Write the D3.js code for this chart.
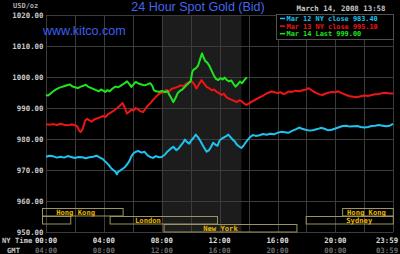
<!DOCTYPE html>
<html>
<head>
<meta charset="utf-8">
<script src="https://d3js.org/d3.v7.min.js"></script>
<style>
  body { margin: 0; background: #000; }
  svg { display: block; }
  .mono { font-family: "DejaVu Sans Mono", monospace; font-weight: bold; }
</style>
</head>
<body>
<div id="chart"></div>
<script>
// tick labels
var yTicks = [950, 960, 970, 980, 990, 1000, 1010, 1020]
var nyHours = [0, 4, 8, 12, 16, 20, 23.98]
var nyLabels = ["00:00", "04:00", "08:00", "12:00", "16:00", "20:00", "23:59"]
var gmtLabels = ["04:00", "08:00", "12:00", "16:00", "20:00", "00:00", "03:59"]

// series: [hour NY time, price]
var mar12 = [[0,974.3],[0.25,974.6],[0.5,974.4],[0.75,974.0],[1,974.3],[1.25,974.0],[1.5,974.5],[1.75,974.2],[2,973.9],[2.25,974.2],[2.5,974.1],[2.75,973.8],[3,974.1],[3.25,974.3],[3.5,974.6],[3.7,974.1],[3.9,973.6],[4.1,972.7],[4.3,971.8],[4.5,970.6],[4.65,970.0],[4.8,969.4],[4.9,968.6],[5.0,969.5],[5.15,969.9],[5.3,970.4],[5.45,970.9],[5.6,971.8],[5.75,972.8],[5.9,974.4],[6.05,975.4],[6.2,975.9],[6.4,976.1],[6.6,975.6],[6.8,975.9],[7.0,974.8],[7.2,974.2],[7.4,973.9],[7.6,974.5],[7.8,974.1],[8.0,974.2],[8.2,974.9],[8.4,976.0],[8.6,976.8],[8.8,977.5],[9.0,976.4],[9.15,976.9],[9.3,977.8],[9.5,979.0],[9.6,979.8],[9.75,979.0],[9.9,978.5],[10.05,979.6],[10.2,980.4],[10.35,981.4],[10.5,980.6],[10.65,979.5],[10.8,978.2],[10.95,977.0],[11.1,975.9],[11.25,976.3],[11.4,977.4],[11.55,978.8],[11.7,978.2],[11.85,977.8],[12.0,979.6],[12.15,980.1],[12.3,980.5],[12.45,980.9],[12.6,981.4],[12.75,980.6],[12.9,979.8],[13.05,979.2],[13.2,978.1],[13.35,977.6],[13.5,977.1],[13.65,977.8],[13.8,978.9],[13.95,979.8],[14.1,980.6],[14.3,981.3],[14.5,981.0],[14.75,981.2],[15,981.6],[15.25,981.4],[15.5,981.7],[15.75,981.5],[16,982.0],[16.25,982.3],[16.5,982.2],[16.75,982.0],[17,982.6],[17.25,983.1],[17.5,983.7],[17.75,983.2],[18,982.9],[18.25,982.7],[18.5,982.9],[18.75,983.2],[19,983.6],[19.25,983.3],[19.5,982.8],[19.75,983.0],[20,983.4],[20.25,983.8],[20.5,984.2],[20.75,984.3],[21,984.0],[21.25,984.1],[21.5,984.2],[21.75,983.9],[22,983.7],[22.25,983.9],[22.5,984.2],[22.75,984.3],[23,984.5],[23.25,984.3],[23.5,984.1],[23.75,984.3],[23.98,984.9]]

var mar13 = [[0,984.8],[0.25,984.6],[0.5,984.8],[0.75,984.5],[1,984.9],[1.25,984.6],[1.5,984.4],[1.75,984.7],[2,984.5],[2.15,984.1],[2.3,982.6],[2.4,982.3],[2.55,983.4],[2.7,985.9],[2.85,986.5],[3.0,986.0],[3.15,985.6],[3.3,986.2],[3.5,986.6],[3.7,986.9],[3.9,987.4],[4.1,987.1],[4.3,988.0],[4.5,988.6],[4.7,989.2],[4.9,989.9],[5.05,990.5],[5.2,991.2],[5.3,991.6],[5.45,990.0],[5.6,988.2],[5.75,988.8],[5.9,989.5],[6.05,989.2],[6.2,990.0],[6.35,989.6],[6.5,989.0],[6.7,988.7],[6.85,989.6],[7.0,990.6],[7.2,991.5],[7.4,992.6],[7.6,993.6],[7.8,994.5],[7.95,994.9],[8.1,995.1],[8.3,995.8],[8.5,995.4],[8.7,996.2],[8.9,996.5],[9.1,996.8],[9.3,997.3],[9.5,997.1],[9.7,997.9],[9.9,998.3],[10.08,998.6],[10.25,997.6],[10.4,996.3],[10.55,997.5],[10.75,999.0],[10.9,998.0],[11.1,996.8],[11.3,996.3],[11.45,995.7],[11.6,996.0],[11.8,995.2],[11.95,994.8],[12.15,994.2],[12.3,994.6],[12.45,993.6],[12.6,993.1],[12.8,992.7],[13.0,992.3],[13.2,991.9],[13.35,992.5],[13.5,992.3],[13.7,991.4],[13.85,991.0],[14.0,991.4],[14.2,992.0],[14.4,992.5],[14.6,993.0],[14.8,993.5],[15.0,994.0],[15.2,994.6],[15.4,995.0],[15.6,995.3],[15.8,995.1],[16.0,994.8],[16.2,995.1],[16.4,994.5],[16.55,994.7],[16.75,995.3],[17.0,995.2],[17.25,995.6],[17.5,995.4],[17.75,995.7],[18.0,996.0],[18.15,996.4],[18.3,995.9],[18.5,995.3],[18.7,994.8],[18.9,994.4],[19.1,994.2],[19.3,994.6],[19.5,994.9],[19.75,995.2],[20.0,995.1],[20.2,995.4],[20.4,994.9],[20.6,994.5],[20.8,994.1],[21.0,993.8],[21.25,993.6],[21.5,993.5],[21.75,993.8],[22.0,994.0],[22.25,993.9],[22.5,994.2],[22.75,994.4],[23.0,994.5],[23.25,994.8],[23.5,994.9],[23.75,994.7],[23.98,994.7]]

var mar14 = [[0,994.2],[0.15,994.0],[0.3,994.6],[0.5,995.4],[0.7,996.0],[0.9,996.5],[1.1,996.8],[1.3,997.1],[1.5,997.4],[1.65,997.6],[1.8,997.0],[2.0,996.7],[2.2,996.4],[2.4,996.9],[2.6,997.2],[2.75,997.5],[2.9,996.9],[3.1,996.5],[3.3,996.1],[3.5,995.7],[3.65,995.4],[3.8,996.0],[3.95,995.6],[4.1,995.2],[4.25,995.8],[4.4,995.4],[4.6,996.3],[4.8,996.9],[5.0,996.7],[5.2,997.3],[5.4,997.9],[5.6,998.6],[5.75,997.8],[5.9,996.8],[6.05,997.6],[6.2,998.4],[6.4,997.9],[6.6,997.6],[6.8,997.3],[7.0,997.6],[7.2,998.0],[7.35,997.1],[7.45,995.8],[7.6,995.4],[7.8,995.2],[8.0,995.5],[8.2,995.1],[8.4,995.4],[8.55,994.0],[8.7,992.8],[8.8,991.9],[8.95,993.2],[9.1,994.8],[9.25,995.5],[9.4,995.9],[9.55,996.6],[9.7,997.3],[9.85,998.0],[10.0,998.7],[10.1,1001.5],[10.2,1002.4],[10.35,1002.8],[10.5,1003.6],[10.6,1005.0],[10.7,1006.5],[10.78,1007.6],[10.9,1006.2],[11.0,1005.2],[11.15,1004.6],[11.3,1003.5],[11.45,1002.0],[11.6,1000.5],[11.75,999.4],[11.9,999.0],[12.05,999.6],[12.2,999.2],[12.35,999.8],[12.5,999.0],[12.65,998.6],[12.8,998.9],[12.95,997.8],[13.1,996.9],[13.25,997.6],[13.4,998.5],[13.55,998.0],[13.7,999.0],[13.88,999.9]]

var seriesNames = ["Mar 12 NY close 983.40", "Mar 13 NY close 995.10", "Mar 14 Last 999.00"]
var seriesColors = ["#1ec3f0", "#f01414", "#1ee61e"]

// trading sessions: name, start hour, end hour, row, label start hour
var sessions = [
  ["Hong Kong", -0.25, 5.33, 0, 0.7],
  ["", -0.25, 1.71, 1, 0],
  ["London", 4.43, 11.85, 1, 6.15],
  ["New York", 8.16, 17.34, 2, 10.86],
  ["Sydney", 17.98, 24, 1, 20.75],
  ["Hong Kong", 20.5, 24, 0, 20.8]
]
var comexHours = [8, 13.5]

var width = 400, height = 254
var margin = {top: 15, right: 6.7, bottom: 22, left: 46}

var svg = d3.select("#chart").append("svg")
  .attr("width", width).attr("height", height)

svg.append("rect").attr("width", width).attr("height", height).attr("fill", "#000")

var x = d3.scaleLinear().domain([0, 24]).range([margin.left, width - margin.right])
var y = d3.scaleLinear().domain([950, 1020]).range([height - margin.bottom, margin.top])

// shaded comex session
svg.append("rect")
  .attr("x", x(comexHours[0])).attr("y", y(1020))
  .attr("width", x(comexHours[1]) - x(comexHours[0]))
  .attr("height", y(950) - y(1020))
  .attr("fill", "#1c1c1c")

// grid
svg.append("g")
  .selectAll("line.h").data(yTicks).enter().append("line")
  .attr("x1", x(0)).attr("x2", x(24))
  .attr("y1", function(d){ return Math.round(y(d)) + 0.5 })
  .attr("y2", function(d){ return Math.round(y(d)) + 0.5 })
  .attr("stroke", "#3c3c3c")

svg.append("g")
  .selectAll("line.v").data(d3.range(0, 25, 2)).enter().append("line")
  .attr("y1", y(1020)).attr("y2", y(950))
  .attr("x1", function(d){ return Math.round(x(d)) + 0.5 })
  .attr("x2", function(d){ return Math.round(x(d)) + 0.5 })
  .attr("stroke", "#3c3c3c")

// y labels
svg.append("g")
  .selectAll("text").data(yTicks).enter().append("text")
  .attr("class", "mono")
  .attr("x", 43.5)
  .attr("y", function(d){ return y(d) + 2.5 })
  .attr("text-anchor", "end")
  .attr("font-size", "7.4px")
  .attr("fill", "#c8c8c8")
  .text(function(d){ return d3.format(".2f")(d) })

svg.append("text").attr("class", "mono")
  .attr("x", 13).attr("y", 8).attr("font-size", "7px").attr("fill", "#b0b0b0")
  .text("USD/oz")

// sessions
var rowTop = [208.5, 216.5, 224.5]
var sess = svg.append("g")
sess.selectAll("rect").data(sessions).enter().append("rect")
  .attr("x", function(d){ return Math.max(x(d[1]), 42.5) })
  .attr("y", function(d){ return rowTop[d[3]] })
  .attr("width", function(d){ return Math.min(x(d[2]), x(24)) - Math.max(x(d[1]), 42.5) })
  .attr("height", 7.5)
  .attr("fill", "none")
  .attr("stroke", "#9a9460")
sess.selectAll("text").data(sessions).enter().append("text")
  .attr("class", "mono")
  .attr("x", function(d){ return x(d[4]) })
  .attr("y", function(d){ return rowTop[d[3]] + 6.3 })
  .attr("font-size", "7.2px")
  .attr("fill", "#e6b400")
  .text(function(d){ return d[0] })

// lines
var line = d3.line()
  .x(function(d){ return x(d[0]) })
  .y(function(d){ return y(d[1]) })

var allSeries = [mar12, mar13, mar14]
svg.append("g").selectAll("path").data(allSeries).enter().append("path")
  .attr("d", line)
  .attr("fill", "none")
  .attr("stroke", function(d, i){ return seriesColors[i] })
  .attr("stroke-width", 2)
  .attr("stroke-linejoin", "round")

// x labels
function labelX(h){
  return Math.min(x(h), width - 13)
}
svg.append("g").selectAll("text").data(nyHours).enter().append("text")
  .attr("class", "mono")
  .attr("x", function(d){ return labelX(d) })
  .attr("y", 242.5)
  .attr("text-anchor", "middle")
  .attr("font-size", "7.4px")
  .attr("fill", "#dcdcdc")
  .text(function(d, i){ return nyLabels[i] })

svg.append("g").selectAll("text").data(nyHours).enter().append("text")
  .attr("class", "mono")
  .attr("x", function(d){ return labelX(d) })
  .attr("y", 252.5)
  .attr("text-anchor", "middle")
  .attr("font-size", "7.4px")
  .attr("fill", "#6a6a6a")
  .text(function(d, i){ return gmtLabels[i] })

svg.append("text").attr("class", "mono")
  .attr("x", 2).attr("y", 243).attr("font-size", "7.2px").attr("fill", "#c8c8c8")
  .text("NY Time")
svg.append("text").attr("class", "mono")
  .attr("x", 7).attr("y", 252.5).attr("font-size", "7.2px").attr("fill", "#c8c8c8")
  .text("GMT")

// titles
svg.append("text")
  .attr("x", 198).attr("y", 11)
  .attr("text-anchor", "middle")
  .attr("font-family", "Liberation Sans, Arial, sans-serif")
  .attr("font-size", "12.5px")
  .attr("fill", "#4466ee")
  .text("24 Hour Spot Gold (Bid)")

svg.append("text")
  .attr("x", 43).attr("y", 35)
  .attr("font-family", "Liberation Sans, Arial, sans-serif")
  .attr("font-size", "12.5px")
  .attr("fill", "#3c5ff0")
  .text("www.kitco.com")

svg.append("text").attr("class", "mono")
  .attr("x", 296.5).attr("y", 10.5).attr("font-size", "7.4px").attr("fill", "#c8c8c8")
  .text("March 14, 2008 13:58")

// legend
var legend = svg.append("g")
legend.append("rect")
  .attr("x", 276.5).attr("y", 14.5).attr("width", 117).attr("height", 25)
  .attr("fill", "#000").attr("stroke", "#505050")
legend.selectAll("line").data(seriesNames).enter().append("line")
  .attr("x1", 280).attr("x2", 285)
  .attr("y1", function(d, i){ return 18.5 + i * 7.6 })
  .attr("y2", function(d, i){ return 18.5 + i * 7.6 })
  .attr("stroke", function(d, i){ return seriesColors[i] })
  .attr("stroke-width", 1.5)
legend.selectAll("text").data(seriesNames).enter().append("text")
  .attr("class", "mono")
  .attr("x", 286.5)
  .attr("y", function(d, i){ return 21 + i * 7.6 })
  .attr("font-size", "6.9px")
  .attr("fill", function(d, i){ return seriesColors[i] })
  .text(function(d){ return d })
</script>
</body>
</html>
